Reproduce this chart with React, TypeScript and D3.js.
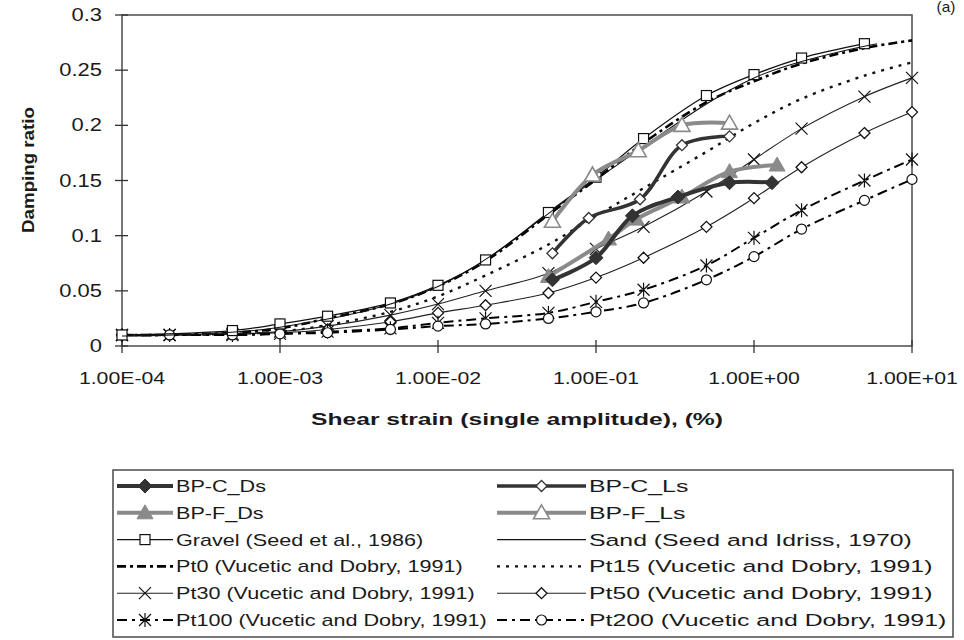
import React from 'react'
import * as d3 from 'd3'

const W = 964
const H = 640

// strain (%) used by the Vucetic & Dobry curves
const vdStrain = [1e-4, 2e-4, 5e-4, 1e-3, 2e-3, 5e-3, 1e-2, 2e-2, 5e-2, 0.1, 0.2, 0.5, 1, 2, 5, 10]
const pt0 = [0.010, 0.010, 0.012, 0.016, 0.025, 0.038, 0.054, 0.077, 0.119, 0.151, 0.184, 0.221, 0.240, 0.256, 0.270, 0.277]
const pt15 = [0.010, 0.010, 0.011, 0.013, 0.019, 0.031, 0.045, 0.064, 0.092, 0.118, 0.143, 0.176, 0.202, 0.224, 0.245, 0.257]
const pt30 = [0.010, 0.010, 0.011, 0.013, 0.018, 0.028, 0.038, 0.050, 0.066, 0.088, 0.108, 0.140, 0.169, 0.197, 0.226, 0.243]
const pt50 = [0.010, 0.010, 0.011, 0.012, 0.015, 0.022, 0.030, 0.037, 0.048, 0.062, 0.080, 0.108, 0.134, 0.162, 0.193, 0.212]
const pt100 = [0.010, 0.010, 0.010, 0.011, 0.013, 0.016, 0.021, 0.025, 0.030, 0.040, 0.051, 0.073, 0.098, 0.123, 0.150, 0.169]
const pt200 = [0.010, 0.010, 0.010, 0.011, 0.012, 0.015, 0.018, 0.020, 0.025, 0.031, 0.039, 0.060, 0.081, 0.106, 0.132, 0.151]

const gravelStrain = [1e-4, 5e-4, 1e-3, 2e-3, 5e-3, 1e-2, 2e-2, 5e-2, 0.1, 0.2, 0.5, 1, 2, 5]
const gravel = [0.010, 0.014, 0.020, 0.027, 0.039, 0.055, 0.078, 0.121, 0.153, 0.188, 0.227, 0.246, 0.261, 0.274]
const sandStrain = [1e-4, 1e-3, 1e-2, 0.1, 1, 6]
const sand = [0.009, 0.017, 0.054, 0.151, 0.243, 0.274]

const bpcDsStrain = [0.053, 0.1, 0.17, 0.33, 0.7, 1.3]
const bpcDs = [0.060, 0.080, 0.118, 0.135, 0.148, 0.148]
const bpcLsStrain = [0.053, 0.09, 0.19, 0.35, 0.7]
const bpcLs = [0.084, 0.116, 0.133, 0.182, 0.190]
const bpfDsStrain = [0.05, 0.12, 0.18, 0.35, 0.7, 1.4]
const bpfDs = [0.063, 0.097, 0.115, 0.135, 0.158, 0.164]
const bpfLsStrain = [0.053, 0.095, 0.185, 0.35, 0.7]
const bpfLs = [0.113, 0.155, 0.177, 0.200, 0.202]

const xTicks = [1e-4, 1e-3, 1e-2, 1e-1, 1, 10]
const xTickLabels = ['1.00E-04', '1.00E-03', '1.00E-02', '1.00E-01', '1.00E+00', '1.00E+01']
const yTicks = [0, 0.05, 0.1, 0.15, 0.2, 0.25, 0.3]
const yTickLabels = ['0', '0.05', '0.1', '0.15', '0.2', '0.25', '0.3']

type Marker = 'none' | 'square' | 'diamond' | 'diamondFill' | 'triFill' | 'triOpen' | 'x' | 'star' | 'circle'
type Series = {
	name: string, strain: number[], values: number[], color: string, width: number,
	dash?: string, marker: Marker, markerColor?: string
}

const series: Series[] = [
	{ name: 'Pt0 (Vucetic and Dobry, 1991)', strain: vdStrain, values: pt0, color: '#000', width: 2.6, dash: '9,4,3,4', marker: 'none' },
	{ name: 'Pt15 (Vucetic and Dobry, 1991)', strain: vdStrain, values: pt15, color: '#111', width: 2.4, dash: '3,6', marker: 'none' },
	{ name: 'Pt30 (Vucetic and Dobry, 1991)', strain: vdStrain, values: pt30, color: '#222', width: 1.1, marker: 'x' },
	{ name: 'Pt50 (Vucetic and Dobry, 1991)', strain: vdStrain, values: pt50, color: '#222', width: 1.1, marker: 'diamond' },
	{ name: 'Pt100 (Vucetic and Dobry, 1991)', strain: vdStrain, values: pt100, color: '#000', width: 2, dash: '10,5,3,5', marker: 'star' },
	{ name: 'Pt200 (Vucetic and Dobry, 1991)', strain: vdStrain, values: pt200, color: '#000', width: 2, dash: '10,5,3,5', marker: 'circle' },
	{ name: 'Gravel (Seed et al., 1986)', strain: gravelStrain, values: gravel, color: '#111', width: 1.3, marker: 'square' },
	{ name: 'Sand (Seed and Idriss, 1970)', strain: sandStrain, values: sand, color: '#111', width: 1.1, marker: 'none' },
	{ name: 'BP-F_Ls', strain: bpfLsStrain, values: bpfLs, color: '#8a8a8a', width: 4, marker: 'triOpen', markerColor: '#8a8a8a' },
	{ name: 'BP-F_Ds', strain: bpfDsStrain, values: bpfDs, color: '#8a8a8a', width: 4, marker: 'triFill', markerColor: '#8a8a8a' },
	{ name: 'BP-C_Ls', strain: bpcLsStrain, values: bpcLs, color: '#333', width: 3.5, marker: 'diamond', markerColor: '#333' },
	{ name: 'BP-C_Ds', strain: bpcDsStrain, values: bpcDs, color: '#333', width: 4, marker: 'diamondFill', markerColor: '#333' },
]

// legend order as in the original figure: [left, right] per row
const legendRows = [
	['BP-C_Ds', 'BP-C_Ls'],
	['BP-F_Ds', 'BP-F_Ls'],
	['Gravel (Seed et al., 1986)', 'Sand (Seed and Idriss, 1970)'],
	['Pt0 (Vucetic and Dobry, 1991)', 'Pt15 (Vucetic and Dobry, 1991)'],
	['Pt30 (Vucetic and Dobry, 1991)', 'Pt50 (Vucetic and Dobry, 1991)'],
	['Pt100 (Vucetic and Dobry, 1991)', 'Pt200 (Vucetic and Dobry, 1991)'],
]

const Glyph = ({ type, cx, cy, color = '#000' }: { type: Marker, cx: number, cy: number, color?: string }) => {
	switch (type) {
		case 'square':
			return <rect x={cx - 5} y={cy - 5} width={10} height={10} fill="white" stroke={color} strokeWidth={1.2} />
		case 'diamond':
			return <path d={`M${cx},${cy - 5.5}L${cx + 5.5},${cy}L${cx},${cy + 5.5}L${cx - 5.5},${cy}Z`} fill="white" stroke={color} strokeWidth={1.3} />
		case 'diamondFill':
			return <path d={`M${cx},${cy - 7}L${cx + 7},${cy}L${cx},${cy + 7}L${cx - 7},${cy}Z`} fill={color} stroke={color} strokeWidth={1} />
		case 'triFill':
			return <path d={`M${cx},${cy - 8}L${cx + 8},${cy + 6}L${cx - 8},${cy + 6}Z`} fill={color} stroke={color} strokeWidth={1} />
		case 'triOpen':
			return <path d={`M${cx},${cy - 8}L${cx + 8},${cy + 6}L${cx - 8},${cy + 6}Z`} fill="white" stroke={color} strokeWidth={1.6} />
		case 'x':
			return <path d={`M${cx - 6},${cy - 6}L${cx + 6},${cy + 6}M${cx - 6},${cy + 6}L${cx + 6},${cy - 6}`} stroke={color} strokeWidth={1.2} />
		case 'star':
			return <path d={`M${cx - 6},${cy - 6}L${cx + 6},${cy + 6}M${cx - 6},${cy + 6}L${cx + 6},${cy - 6}M${cx},${cy - 7}L${cx},${cy + 7}`} stroke={color} strokeWidth={1.2} />
		case 'circle':
			return <circle cx={cx} cy={cy} r={5} fill="white" stroke={color} strokeWidth={1.2} />
		default:
			return null
	}
}

// horizontally stretched text, the scan is wider than a normal Arial
const SText = ({ x, y, sx = 1.2, anchor = 'start', size = 17, weight = 'normal', children }: any) => (
	<text transform={`translate(${x},${y}) scale(${sx},1)`} textAnchor={anchor} fontSize={size} fontWeight={weight}
		fontFamily="'Liberation Sans', Arial, sans-serif" fill="#1a1a1a">{children}</text>
)

export default function App() {
	const left = 122, right = 912, top = 15, bottom = 346
	const x = d3.scaleLog().domain([1e-4, 10]).range([left, right])
	const y = d3.scaleLinear().domain([0, 0.3]).range([bottom, top])
	const line = d3.line<[number, number]>()
		.x(d => x(d[0]))
		.y(d => y(d[1]))
		.curve(d3.curveCatmullRom.alpha(0.5))

	const byName = (n: string) => series.find(s => s.name === n) as Series

	const legTop = 470, legBottom = 637, legLeft = 113, legRight = 953
	const rowY = (i: number) => 486 + i * 26.8
	const cols = [
		{ x0: 117, x1: 173, tx: 176, sx: 1.27 },
		{ x0: 497, x1: 586, tx: 589, sx: 1.46 },
	]

	return (
		<svg width={W} height={H} style={{ position: 'absolute', left: 0, top: 0, background: '#fff' }}>
			<rect x={0} y={0} width={W} height={H} fill="#fff" />

			{/* plot frame */}
			<rect x={left} y={top} width={right - left} height={bottom - top} fill="none" stroke="#555" strokeWidth={1.6} />
			{yTicks.map(t => (
				<line key={'yt' + t} x1={left - 7} x2={left + 6} y1={y(t)} y2={y(t)} stroke="#333" strokeWidth={1.3} />
			))}
			{xTicks.map(t => (
				<line key={'xt' + t} x1={x(t)} x2={x(t)} y1={bottom - 6} y2={bottom + 7} stroke="#333" strokeWidth={1.3} />
			))}
			{yTicks.map((t, i) => (
				<SText key={'yl' + t} x={left - 20} y={y(t) + 6} anchor="end" size={18} sx={1.22}>{yTickLabels[i]}</SText>
			))}
			{xTicks.map((t, i) => (
				<SText key={'xl' + t} x={x(t)} y={384} anchor="middle" size={17} sx={1.25}>{xTickLabels[i]}</SText>
			))}
			<SText x={517} y={425} anchor="middle" size={17} weight="bold" sx={1.45}>Shear strain (single amplitude), (%)</SText>
			<g transform="translate(34,170) rotate(-90)">
				<SText x={0} y={0} anchor="middle" size={16} weight="bold" sx={1.17}>Damping ratio</SText>
			</g>
			<SText x={946} y={12} anchor="middle" size={14} sx={1.1}>(a)</SText>

			{/* series */}
			{series.map(s => {
				const pts = s.strain.map((v, i) => [v, s.values[i]] as [number, number])
				return (
					<g key={s.name}>
						<path d={line(pts) || ''} fill="none" stroke={s.color} strokeWidth={s.width}
							strokeDasharray={s.dash} strokeLinejoin="round" />
						{pts.map((p, i) => (
							<Glyph key={i} type={s.marker} cx={x(p[0])} cy={y(p[1])} color={s.markerColor || '#111'} />
						))}
					</g>
				)
			})}

			{/* legend */}
			<rect x={legLeft} y={legTop} width={legRight - legLeft} height={legBottom - legTop} fill="#fff" stroke="#555" strokeWidth={1.6} />
			{legendRows.map((row, i) => row.map((name, c) => {
				const s = byName(name)
				const col = cols[c]
				const cy = rowY(i)
				return (
					<g key={name}>
						<line x1={col.x0} x2={col.x1} y1={cy} y2={cy} stroke={s.color} strokeWidth={s.width} strokeDasharray={s.dash} />
						<Glyph type={s.marker} cx={(col.x0 + col.x1) / 2} cy={cy} color={s.markerColor || '#111'} />
						<SText x={col.tx} y={cy + 6} size={17} sx={col.sx}>{name}</SText>
					</g>
				)
			}))}
		</svg>
	)
}
